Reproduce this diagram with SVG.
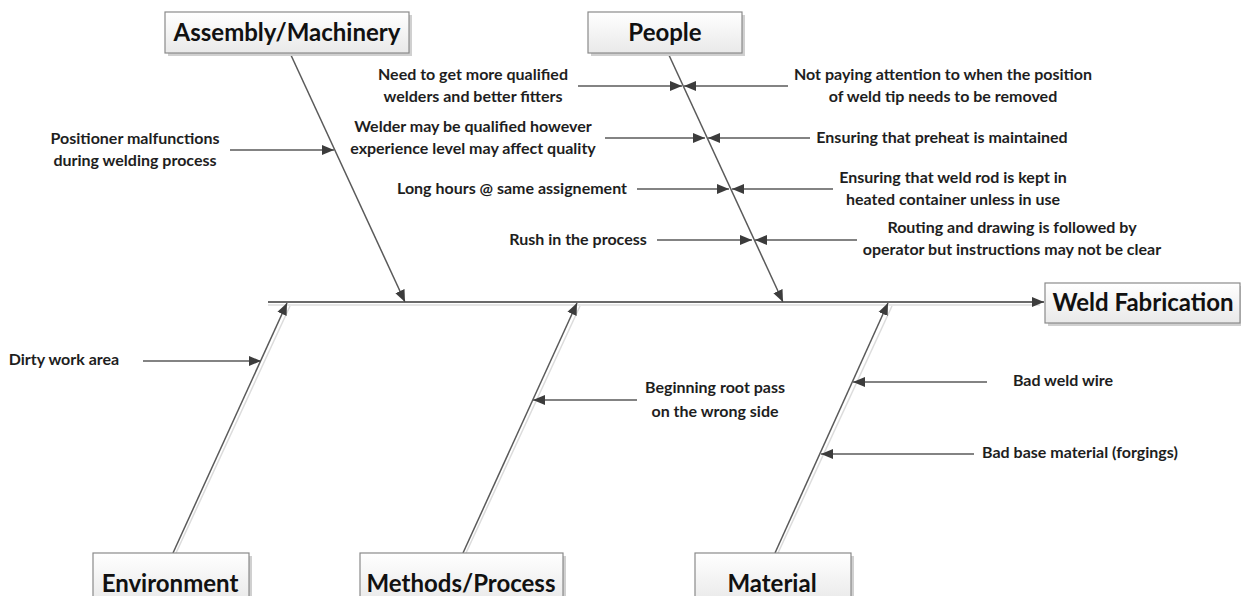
<svg xmlns="http://www.w3.org/2000/svg" width="1241" height="596" viewBox="0 0 1241 596">
<style>
.box{fill:url(#bg);stroke:#8a8a8a;stroke-width:1.2}
.shadow{fill:#d0d0d0}
.title{font-family:Lato,"Liberation Sans",sans-serif;font-weight:bold;font-size:24px;fill:#111;text-anchor:middle}
.lbl{font-family:Lato,"Liberation Sans",sans-serif;font-weight:bold;font-size:16px;fill:#1e1e1e;text-anchor:middle}
.ln{stroke:#5a5a5a;stroke-width:1.5;fill:none}
.sp{stroke:#6a6a6a;stroke-width:2.2;fill:none}
.sh{stroke:#dcdcdc;stroke-width:1.5;fill:none}
</style>
<defs>
<linearGradient id="bg" x1="0" y1="0" x2="0" y2="1">
<stop offset="0" stop-color="#ffffff"/>
<stop offset="1" stop-color="#e9e9e9"/>
</linearGradient>
<marker id="ah" markerUnits="userSpaceOnUse" markerWidth="14" markerHeight="12" refX="12" refY="5" orient="auto" viewBox="0 0 14 10">
<path d="M0,0 L12,5 L0,10 Z" fill="#3c3c3c"/>
</marker>
</defs>

<g id="connectors">
<line class="sh" x1="268" y1="305" x2="1040" y2="305"/>
<line class="sp" x1="268" y1="302" x2="1044" y2="302" marker-end="url(#ah)"/>
<line class="ln" x1="290" y1="53" x2="405" y2="302" marker-end="url(#ah)"/>
<line class="ln" x1="668" y1="53" x2="783" y2="302" marker-end="url(#ah)"/>
<line class="sh" x1="176" y1="553" x2="290" y2="306"/>
<line class="ln" x1="173" y1="553" x2="287" y2="303" marker-end="url(#ah)"/>
<line class="sh" x1="466" y1="553" x2="580" y2="306"/>
<line class="ln" x1="463" y1="553" x2="577" y2="303" marker-end="url(#ah)"/>
<line class="sh" x1="778" y1="553" x2="892" y2="306"/>
<line class="ln" x1="775" y1="553" x2="888" y2="303" marker-end="url(#ah)"/>
<line class="ln" x1="230" y1="150" x2="334" y2="150" marker-end="url(#ah)"/>
<line class="ln" x1="578" y1="86" x2="682" y2="86" marker-end="url(#ah)"/>
<line class="ln" x1="605" y1="138" x2="705" y2="138" marker-end="url(#ah)"/>
<line class="ln" x1="637" y1="189" x2="729" y2="189" marker-end="url(#ah)"/>
<line class="ln" x1="657" y1="240" x2="752" y2="240" marker-end="url(#ah)"/>
<line class="ln" x1="788" y1="86" x2="684" y2="86" marker-end="url(#ah)"/>
<line class="ln" x1="810" y1="138" x2="708" y2="138" marker-end="url(#ah)"/>
<line class="ln" x1="833" y1="189" x2="732" y2="189" marker-end="url(#ah)"/>
<line class="ln" x1="857" y1="240" x2="755" y2="240" marker-end="url(#ah)"/>
<line class="ln" x1="143" y1="361" x2="261" y2="361" marker-end="url(#ah)"/>
<line class="ln" x1="637" y1="400" x2="533" y2="400" marker-end="url(#ah)"/>
<line class="ln" x1="987" y1="382" x2="853" y2="382" marker-end="url(#ah)"/>
<line class="ln" x1="974" y1="454" x2="821" y2="454" marker-end="url(#ah)"/>
</g>

<g id="assembly">
<rect class="shadow" x="168" y="15" width="244" height="41"/>
<rect class="box" x="165" y="12" width="244" height="41"/>
<text class="title" x="287" y="41">Assembly/Machinery</text>
</g>
<g id="people">
<rect class="shadow" x="591" y="15" width="154" height="41"/>
<rect class="box" x="588" y="12" width="154" height="41"/>
<text class="title" x="665" y="41">People</text>
</g>
<g id="weld-fabrication">
<rect class="shadow" x="1048" y="286" width="195" height="40"/>
<rect class="box" x="1045" y="283" width="195" height="40"/>
<text class="title" x="1143" y="311">Weld Fabrication</text>
</g>
<g id="environment">
<rect class="shadow" x="96" y="556" width="156" height="50"/>
<rect class="box" x="93" y="553" width="156" height="50"/>
<text class="title" x="170" y="592">Environment</text>
</g>
<g id="methods">
<rect class="shadow" x="363" y="556" width="203" height="50"/>
<rect class="box" x="360" y="553" width="203" height="50"/>
<text class="title" x="461" y="592">Methods/Process</text>
</g>
<g id="material">
<rect class="shadow" x="698" y="556" width="156" height="50"/>
<rect class="box" x="695" y="553" width="156" height="50"/>
<text class="title" x="772" y="592">Material</text>
</g>

<g id="cause-positioner"><text class="lbl" x="135" y="144">Positioner malfunctions</text><text class="lbl" x="135" y="166">during welding process</text></g>
<g id="cause-qualified"><text class="lbl" x="473" y="80">Need to get more qualified</text><text class="lbl" x="473" y="102">welders and better fitters</text></g>
<g id="cause-experience"><text class="lbl" x="473" y="132">Welder may be qualified however</text><text class="lbl" x="473" y="154">experience level may affect quality</text></g>
<g id="cause-hours"><text class="lbl" x="512" y="194">Long hours @ same assignement</text></g>
<g id="cause-rush"><text class="lbl" x="578" y="245">Rush in the process</text></g>
<g id="cause-attention"><text class="lbl" x="943" y="80">Not paying attention to when the position</text><text class="lbl" x="943" y="102">of weld tip needs to be removed</text></g>
<g id="cause-preheat"><text class="lbl" x="942" y="143">Ensuring that preheat is maintained</text></g>
<g id="cause-rod"><text class="lbl" x="953" y="183">Ensuring that weld rod is kept in</text><text class="lbl" x="953" y="205">heated container unless in use</text></g>
<g id="cause-routing"><text class="lbl" x="1012" y="233">Routing and drawing is followed by</text><text class="lbl" x="1012" y="255">operator but instructions may not be clear</text></g>
<g id="cause-dirty"><text class="lbl" x="64" y="365">Dirty work area</text></g>
<g id="cause-root"><text class="lbl" x="715" y="393">Beginning root pass</text><text class="lbl" x="715" y="417">on the wrong side</text></g>
<g id="cause-wire"><text class="lbl" x="1063" y="386">Bad weld wire</text></g>
<g id="cause-base"><text class="lbl" x="1080" y="458">Bad base material (forgings)</text></g>
</svg>
